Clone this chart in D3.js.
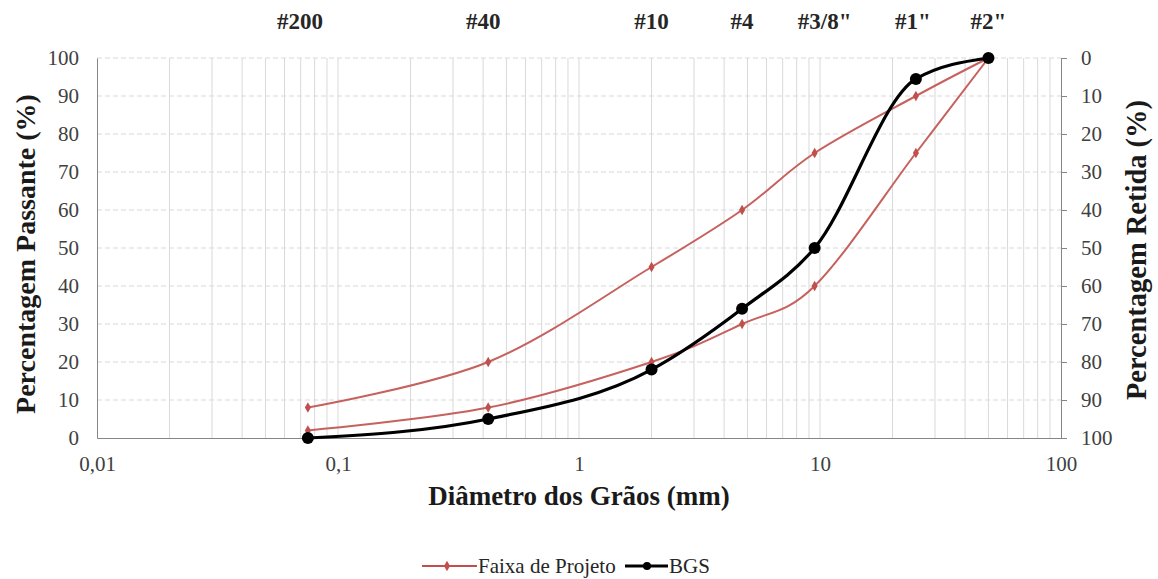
<!DOCTYPE html>
<html>
<head>
<meta charset="utf-8">
<script src="https://cdn.jsdelivr.net/npm/d3@7/dist/d3.min.js"></script>
<style>
  html, body { margin: 0; padding: 0; background: #fff; }
  svg { display: block; }
</style>
</head>
<body>
<svg id="chart" width="1158" height="579"></svg>
<script>
// Sieve openings (mm) and their names
const sieveSizes = [0.075, 0.42, 2.0, 4.75, 9.5, 25, 50];
const sieveLabels = ["#200", "#40", "#10", "#4", "#3/8\"", "#1\"", "#2\""];

// Design band limits (% passing)
const faixaUpper = [8, 20, 45, 60, 75, 90, 100];
const faixaLower = [2, 8, 20, 30, 40, 75, 100];

// Graded crushed stone (BGS) curve (% passing)
const bgsPassing = [0, 5, 18, 34, 50, 94.5, 100];

// Axis ticks
const xTickValues = [0.01, 0.1, 1, 10, 100];
const xTickLabels = ["0,01", "0,1", "1", "10", "100"];
const yTickValues = [0, 10, 20, 30, 40, 50, 60, 70, 80, 90, 100];

const FONT = "'Liberation Serif', 'Times New Roman', serif";

const svg = d3.select("#chart").style("font-family", FONT);
const margin = { left: 97, right: 1061, top: 58, bottom: 438 };

const x = d3.scaleLog().domain([0.01, 100]).range([margin.left, margin.right]);
const y = d3.scaleLinear().domain([0, 100]).range([margin.bottom, margin.top]);
const yRet = d3.scaleLinear().domain([100, 0]).range([margin.bottom, margin.top]);

// Vertical grid: every 1..9 of each decade
const minorX = [];
for (let e = -2; e < 2; e++) {
  for (let m = 1; m <= 9; m++) minorX.push(m * Math.pow(10, e));
}
svg.append("g")
  .selectAll("line")
  .data(minorX.filter(v => v > 0.01))
  .join("line")
  .attr("x1", d => x(d)).attr("x2", d => x(d))
  .attr("y1", margin.top).attr("y2", margin.bottom)
  .attr("stroke", "#d9d9d9").attr("stroke-width", 1);

// Horizontal dashed grid
svg.append("g")
  .selectAll("line")
  .data(yTickValues.filter(v => v > 0))
  .join("line")
  .attr("x1", margin.left).attr("x2", margin.right)
  .attr("y1", d => y(d)).attr("y2", d => y(d))
  .attr("stroke", "#d9d9d9").attr("stroke-width", 1)
  .attr("stroke-dasharray", "5,3");

function styleTicks(g) {
  g.attr("font-family", null);
  g.select(".domain").attr("stroke", "#868686");
  g.selectAll(".tick line").attr("stroke", "#868686");
  g.selectAll("text").attr("font-size", 21).attr("fill", "#404040")
    .style("font-family", FONT);
}

// Left axis (% passing)
svg.append("g")
  .attr("transform", `translate(${margin.left},0)`)
  .call(d3.axisLeft(y).tickValues(yTickValues).tickSize(0).tickPadding(18))
  .call(styleTicks);

// Right axis (% retained)
svg.append("g")
  .attr("transform", `translate(${margin.right},0)`)
  .call(d3.axisRight(yRet).tickValues(yTickValues).tickSize(6).tickPadding(14))
  .call(styleTicks);

// Bottom axis (grain diameter, log)
svg.append("g")
  .attr("transform", `translate(0,${margin.bottom})`)
  .call(d3.axisBottom(x).tickValues(xTickValues)
    .tickFormat((d, i) => xTickLabels[i]).tickSize(0).tickPadding(18))
  .call(styleTicks);

// Axis titles
function title(sel, txt, size) {
  return sel.attr("text-anchor", "middle").attr("font-size", size)
    .attr("font-weight", "bold").attr("fill", "#1a1a1a")
    .style("font-family", FONT).text(txt);
}
title(svg.append("text").attr("x", 579).attr("y", 505),
  "Diâmetro dos Grãos (mm)", 27);
title(svg.append("text").attr("transform", "translate(35,254) rotate(-90)"),
  "Percentagem Passante (%)", 28);
title(svg.append("text").attr("transform", "translate(1146,250) rotate(-90)"),
  "Percentagem Retida (%)", 28.5);

// Sieve names along the top
const labelNudge = { "#200": -8, "#40": -5, "#3/8\"": 10, "#1\"": -3 };
svg.append("g")
  .selectAll("text")
  .data(sieveSizes)
  .join("text")
  .attr("x", (d, i) => x(d) + (labelNudge[sieveLabels[i]] || 0))
  .attr("y", 29)
  .attr("text-anchor", "middle").attr("font-size", 23).attr("font-weight", "bold")
  .attr("fill", "#262626").style("font-family", FONT)
  .text((d, i) => sieveLabels[i]);

// Series
const bandLine = d3.line()
  .x(d => x(d[0])).y(d => y(d[1]))
  .curve(d3.curveCatmullRom.alpha(0));
const bgsLine = d3.line()
  .x(d => x(d[0])).y(d => y(d[1]))
  .curve(d3.curveMonotoneX);

const red = "#c0504d";
const diamond = d3.symbol().type(d3.symbolDiamond).size(32);

[faixaUpper, faixaLower].forEach(series => {
  const pts = sieveSizes.map((s, i) => [s, series[i]]);
  svg.append("path").datum(pts)
    .attr("d", bandLine).attr("fill", "none")
    .attr("stroke", red).attr("stroke-width", 2).attr("opacity", 0.9);
  svg.append("g").selectAll("path").data(pts).join("path")
    .attr("d", diamond)
    .attr("transform", d => `translate(${x(d[0])},${y(d[1])})`)
    .attr("fill", red);
});

const bgsPts = sieveSizes.map((s, i) => [s, bgsPassing[i]]);
svg.append("path").datum(bgsPts)
  .attr("d", bgsLine).attr("fill", "none")
  .attr("stroke", "#000").attr("stroke-width", 3.2);
svg.append("g").selectAll("circle").data(bgsPts).join("circle")
  .attr("cx", d => x(d[0])).attr("cy", d => y(d[1])).attr("r", 6)
  .attr("fill", "#000");

// Legend
const legend = svg.append("g").attr("transform", "translate(0,566)");
legend.append("line").attr("x1", 422).attr("x2", 477).attr("y1", 0).attr("y2", 0)
  .attr("stroke", red).attr("stroke-width", 2);
legend.append("path").attr("d", diamond).attr("transform", "translate(447,0)").attr("fill", red);
legend.append("text").attr("x", 478).attr("y", 7).attr("font-size", 21)
  .attr("fill", "#262626").style("font-family", FONT).text("Faixa de Projeto");
legend.append("line").attr("x1", 625).attr("x2", 668).attr("y1", 0).attr("y2", 0)
  .attr("stroke", "#000").attr("stroke-width", 3);
legend.append("circle").attr("cx", 647).attr("cy", 0).attr("r", 4).attr("fill", "#000");
legend.append("text").attr("x", 669).attr("y", 7).attr("font-size", 21)
  .attr("fill", "#262626").style("font-family", FONT).text("BGS");
</script>
</body>
</html>
